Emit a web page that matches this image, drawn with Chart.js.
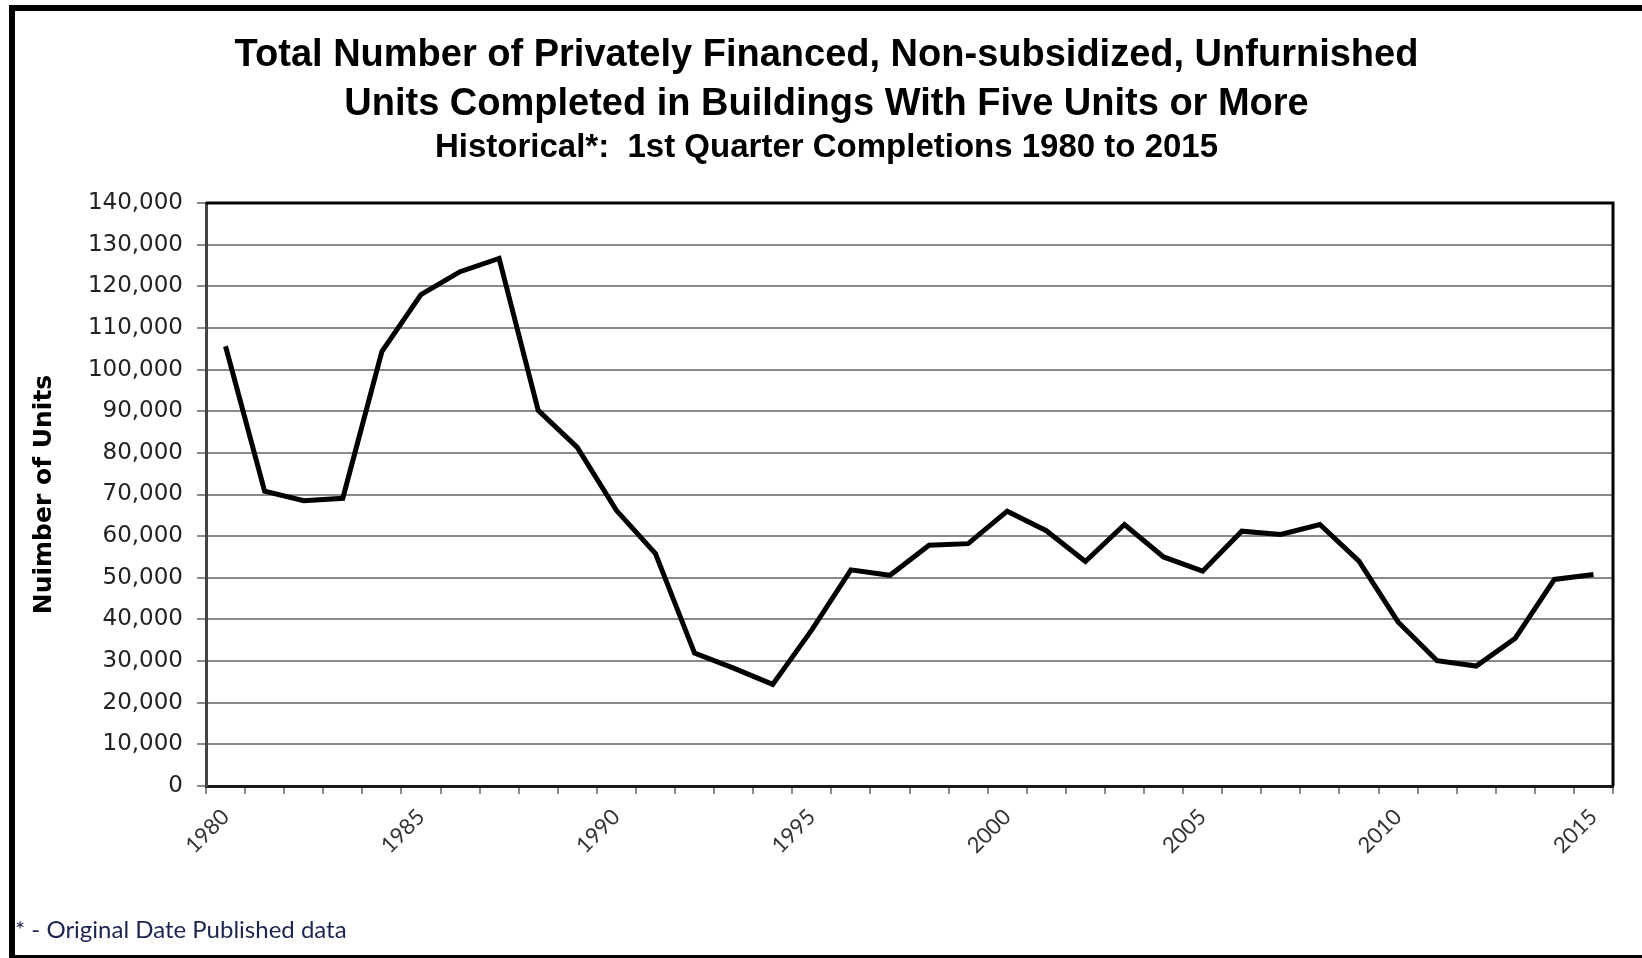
<!DOCTYPE html>
<html>
<head>
<meta charset="utf-8">
<title>Privately Financed Units Completed - 1st Quarter</title>
<script src="https://cdn.jsdelivr.net/npm/chart.js@4.4.1/dist/chart.umd.min.js"></script>
<style>
  html, body { margin: 0; padding: 0; background: #fff; overflow: hidden; }
  #wrap { position: relative; width: 1642px; height: 958px; }
  #frame {
    position: absolute; left: 9px; top: 5px; width: 1633px; height: 953px;
    box-sizing: border-box; border-top: 6px solid #000; border-left: 6px solid #000;
    border-bottom: 3px solid #000; pointer-events: none;
  }
  #note {
    position: absolute; left: 15px; top: 914px;
    font-family: Lato, "Open Sans", sans-serif; font-size: 24px; color: #1c2550;
  }
</style>
</head>
<body>
<div id="wrap">
  <canvas id="chart"></canvas>
  <div id="frame"></div>
  <div id="note">* - Original Date Published data</div>
</div>
<script>
// categories (1st quarter of each year)
const years = [
  "1980", "1981", "1982", "1983", "1984", "1985", "1986", "1987", "1988", "1989",
  "1990", "1991", "1992", "1993", "1994", "1995", "1996", "1997", "1998", "1999",
  "2000", "2001", "2002", "2003", "2004", "2005", "2006", "2007", "2008", "2009",
  "2010", "2011", "2012", "2013", "2014", "2015"
];

// units completed
const units = [
  105600, 70800, 68500, 69100, 104300, 118000, 123500, 126700, 90200, 81300,
  66200, 55800, 31900, 28300, 24400, 37500, 51900, 50600, 57800, 58200,
  66000, 61300, 53900, 62800, 55000, 51600, 61200, 60400, 62800, 54000,
  39400, 30100, 28800, 35500, 49600, 50800
];

// x tick labels that are printed
const shownYears = ["1980", "1985", "1990", "1995", "2000", "2005", "2010", "2015"];

const titleLines = [
  "Total Number of Privately Financed, Non-subsidized, Unfurnished",
  "Units Completed in Buildings With Five Units or More"
];
const subTitle = "Historical*:  1st Quarter Completions 1980 to 2015";
const yTitle = "Nuimber of Units";

// top and right edges of the plot box
const plotFrame = {
  id: "plotFrame",
  afterDraw(chart) {
    const a = chart.chartArea;
    const c = chart.ctx;
    c.save();
    c.strokeStyle = "#000";
    c.lineWidth = 3;
    c.beginPath();
    c.moveTo(a.left, a.top);
    c.lineTo(a.right, a.top);
    c.lineTo(a.right, a.bottom);
    c.stroke();
    c.restore();
  }
};

const ctx = document.getElementById("chart").getContext("2d");

new Chart(ctx, {
  type: "line",
  data: {
    labels: years,
    datasets: [
      {
        label: "Units",
        data: units,
        borderColor: "#000",
        borderWidth: 5,
        pointRadius: 0,
        tension: 0,
        fill: false
      }
    ]
  },
  options: {
    responsive: true,
    maintainAspectRatio: false,
    animation: false,
    layout: { padding: { left: 40, right: 29, top: 0, bottom: 0 } },
    plugins: {
      legend: { display: false },
      tooltip: { enabled: false },
      title: {
        display: true,
        text: titleLines,
        color: "#000",
        font: { family: "Liberation Sans", size: 38, weight: "bold", lineHeight: 49 / 38 },
        padding: { top: 31, bottom: 3 }
      },
      subtitle: {
        display: true,
        text: subTitle,
        color: "#000",
        font: { family: "Liberation Sans", size: 33, weight: "bold", lineHeight: 32 / 33 },
        padding: { top: 0, bottom: 39 }
      }
    },
    scales: {
      x: {
        offset: true,
        grid: {
          offset: true,
          drawOnChartArea: false,
          drawTicks: true,
          tickLength: 8,
          color: "#8a8a8a",
          lineWidth: 2
        },
        border: { color: "#1a1a1a", width: 3 },
        ticks: {
          autoSkip: false,
          maxRotation: 45,
          minRotation: 45,
          padding: 10,
          color: "#333",
          font: { family: "Lato", size: 22 },
          callback: function (value) {
            const lab = this.getLabelForValue(value);
            return shownYears.includes(lab) ? lab : "";
          }
        },
        afterFit: (scale) => { scale.height = 172; }
      },
      y: {
        min: 0,
        max: 140000,
        grid: {
          color: "#8a8a8a",
          lineWidth: 2,
          tickLength: 9
        },
        border: { color: "#444", width: 3 },
        ticks: {
          stepSize: 10000,
          padding: 14,
          color: "#222",
          font: { family: "DejaVu Sans", size: 23 },
          callback: (v) => v.toLocaleString("en-US")
        },
        title: {
          display: true,
          text: yTitle,
          color: "#000",
          font: { family: "DejaVu Sans", size: 25, weight: "bold" },
          padding: { top: -11, bottom: 0 }
        },
        afterFit: (scale) => { scale.width = 166; }
      }
    }
  },
  plugins: [plotFrame]
});
</script>
</body>
</html>
